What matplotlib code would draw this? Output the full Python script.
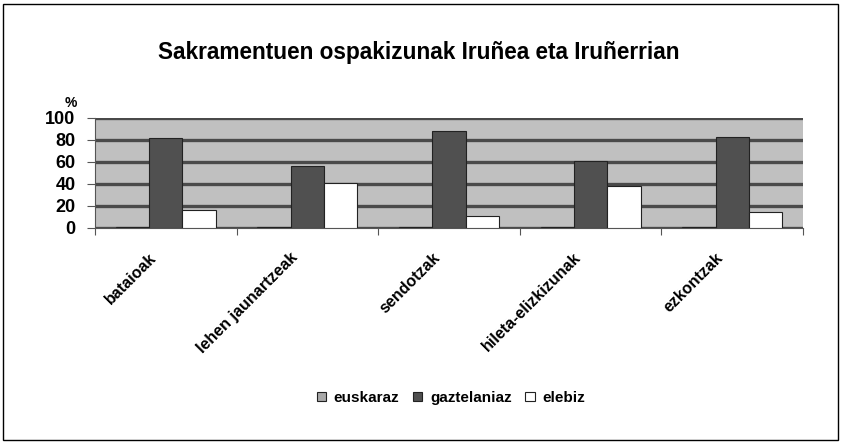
import matplotlib.pyplot as plt
import matplotlib.transforms as mtransforms
import numpy as np
from matplotlib.patches import Rectangle

categories = ["bataioak", "lehen jaunartzeak", "sendotzak", "hileta-elizkizunak", "ezkontzak"]
euskaraz = [1, 1, 0.5, 0.5, 0.5]
gaztelaniaz = [82, 56, 88, 61, 83]
elebiz = [16, 41, 11, 38, 15]
series_names = ["euskaraz", "gaztelaniaz", "elebiz"]

plt.rcParams["font.family"] = ["Liberation Sans", "DejaVu Sans"]

fig = plt.figure(figsize=(8.43, 4.43), dpi=100)
ax = fig.add_axes([95 / 843, 1 - 228 / 443, 708 / 843, 110 / 443])

# outer frame round the whole chart
fig.patches.append(Rectangle((3 / 843, 3 / 443), 835 / 843, 436 / 443,
                             transform=fig.transFigure, fill=False,
                             edgecolor="black", linewidth=1))

x = np.arange(len(categories))
w = 0.235
colors = ["#a8a8a8", "#505050", "white"]
for i, (vals, c) in enumerate(zip([euskaraz, gaztelaniaz, elebiz], colors)):
    ax.bar(x + (i - 1) * w, vals, width=w, color=c, edgecolor="#222222",
           linewidth=0.8, label=series_names[i], zorder=3)

ax.set_facecolor("#c0c0c0")
ax.set_xlim(-0.5, len(categories) - 0.5)
ax.set_ylim(0, 100)
ax.set_yticks([0, 20, 40, 60, 80, 100])
ax.yaxis.grid(True, color="#4a4a4a", linewidth=2.4, zorder=1)
ax.set_axisbelow(True)
for s in ["top", "right"]:
    ax.spines[s].set_visible(False)
ax.spines["left"].set_color("#555555")
ax.spines["bottom"].set_color("#555555")
ax.tick_params(axis="y", labelsize=13, length=6, color="#555555", pad=8)
for t in ax.get_yticklabels():
    t.set_fontweight("bold")

# ticks between categories, labels at centers
ax.set_xticks(np.arange(-0.5, len(categories)), minor=False)
ax.set_xticklabels([])
ax.tick_params(axis="x", length=5, color="#555555")
ax.set_xticks(x, minor=True)
ax.set_xticklabels(categories, minor=True, rotation=45, ha="right",
                   rotation_mode="anchor", fontsize=11.5, fontweight="bold")
ax.tick_params(axis="x", which="minor", length=0, pad=16)
shift = mtransforms.ScaledTranslation(-17 / 100, 0, fig.dpi_scale_trans)
for t in ax.get_xticklabels(minor=True):
    t.set_transform(t.get_transform() + shift)

fig.text(71 / 843, 1 - 103 / 443, "%", fontsize=10, fontweight="bold",
         ha="center", va="center")
fig.text(419 / 843, 1 - 52 / 443, "Sakramentuen ospakizunak Iruñea eta Iruñerrian",
         fontsize=16.3, fontweight="bold", ha="center", va="center")

fig.legend(loc="center", bbox_to_anchor=(451 / 843, 1 - 398 / 443), ncol=3,
           frameon=False, handlelength=0.6, handleheight=0.6,
           handletextpad=0.5, columnspacing=0.9, prop={"weight": "bold", "size": 11})

fig.savefig("out.png", dpi=100)
